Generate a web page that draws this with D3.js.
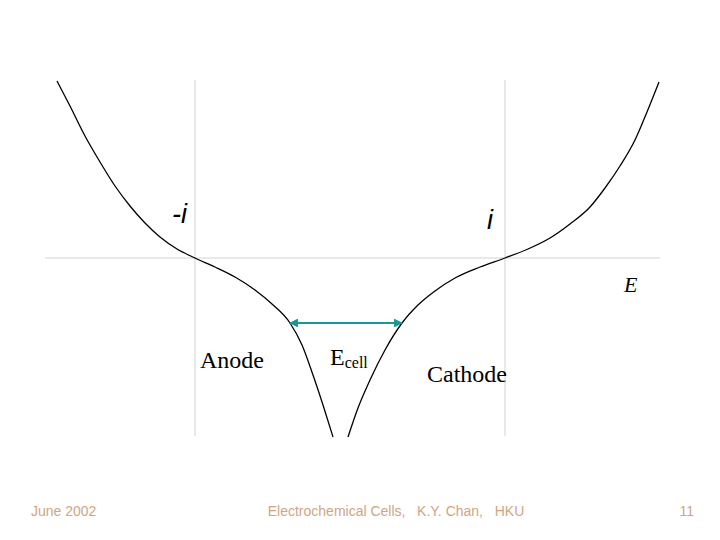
<!DOCTYPE html>
<html><head><meta charset="utf-8">
<script src="https://cdn.jsdelivr.net/npm/d3@7"></script>
<style>body{margin:0;background:#fff}svg{display:block}</style>
</head><body>
<script>
// Anode polarization curve (E, i)
const anodeE = [-2.93, -2.80, -2.65, -2.50, -2.35, -2.20, -2.05, -1.90, -1.73, -1.55, -1.35, -1.15, -0.95, -0.78, -0.60, -0.48, -0.37, -0.27, -0.17];
const anodeI = [1.77, 1.52, 1.22, 0.96, 0.72, 0.52, 0.35, 0.21, 0.09, 0.0, -0.09, -0.19, -0.32, -0.46, -0.65, -0.87, -1.17, -1.47, -1.79];
// Cathode polarization curve (E, i)
const cathodeE = [-0.02, 0.08, 0.20, 0.35, 0.52, 0.68, 0.85, 1.05, 1.30, 1.55, 1.78, 2.00, 2.20, 2.40, 2.55, 2.70, 2.85, 2.97, 3.09];
const cathodeI = [-1.79, -1.50, -1.22, -0.92, -0.65, -0.47, -0.33, -0.20, -0.09, 0.0, 0.09, 0.20, 0.34, 0.51, 0.70, 0.92, 1.18, 1.46, 1.76];
// Equilibrium potentials (vertical guides) and E_cell span
const eqPotentials = [-1.55, 1.55];
const ecellSpan = [-0.60, 0.52];
const ecellLevel = -0.65;
const footer = ["June 2002", "Electrochemical Cells,   K.Y. Chan,   HKU", "11"];

const W = 720, H = 540;
const svg = d3.select("body").append("svg").attr("width", W).attr("height", H);
const x = d3.scaleLinear().domain([-3, 3]).range([50, 650]);
const y = d3.scaleLinear().domain([-1.8, 1.8]).range([438, 78]);

// axis line
svg.append("line").attr("x1", x(-3.05)).attr("x2", x(3.1))
  .attr("y1", y(0)).attr("y2", y(0)).attr("stroke", "#e2e2e2").attr("stroke-width", 1.3);
// vertical guides
svg.selectAll("line.v").data(eqPotentials).enter().append("line")
  .attr("x1", d => x(d)).attr("x2", d => x(d))
  .attr("y1", y(1.78)).attr("y2", y(-1.78))
  .attr("stroke", "#dcdcdc").attr("stroke-width", 1.3);

const line = d3.line().x(d => x(d[0])).y(d => y(d[1])).curve(d3.curveMonotoneX);
svg.append("path").datum(anodeE.map((e, k) => [e, anodeI[k]]))
  .attr("d", line).attr("fill", "none").attr("stroke", "#000").attr("stroke-width", 1.3);
svg.append("path").datum(cathodeE.map((e, k) => [e, cathodeI[k]]))
  .attr("d", line).attr("fill", "none").attr("stroke", "#000").attr("stroke-width", 1.3);

// E_cell arrow
const defs = svg.append("defs");
defs.append("marker").attr("id", "ah").attr("viewBox", "0 0 10 10").attr("refX", 9).attr("refY", 5)
  .attr("markerWidth", 4).attr("markerHeight", 4).attr("orient", "auto-start-reverse")
  .append("path").attr("d", "M0,0 L10,5 L0,10 z").attr("fill", "#199696");
svg.append("line").attr("x1", x(ecellSpan[0])).attr("x2", x(ecellSpan[1]))
  .attr("y1", y(ecellLevel)).attr("y2", y(ecellLevel))
  .attr("stroke", "#199696").attr("stroke-width", 2.2)
  .attr("marker-start", "url(#ah)").attr("marker-end", "url(#ah)");

// labels
const sans = "Liberation Sans, Arial, sans-serif";
const serif = "Liberation Serif, Times New Roman, serif";
svg.append("text").attr("x", 172).attr("y", 223).attr("font-family", sans)
  .attr("font-style", "italic").attr("font-size", 27).text("-i");
svg.append("text").attr("x", 487).attr("y", 229).attr("font-family", sans)
  .attr("font-style", "italic").attr("font-size", 27).text("i");
svg.append("text").attr("x", 624).attr("y", 292).attr("font-family", serif)
  .attr("font-style", "italic").attr("font-size", 22).text("E");
svg.append("text").attr("x", 200).attr("y", 368).attr("font-family", serif)
  .attr("font-size", 24).text("Anode");
const ec = svg.append("text").attr("x", 330).attr("y", 365).attr("font-family", serif)
  .attr("font-size", 24);
ec.append("tspan").text("E");
ec.append("tspan").attr("font-size", 16).attr("dy", 3).text("cell");
svg.append("text").attr("x", 427).attr("y", 382).attr("font-family", serif)
  .attr("font-size", 24).text("Cathode");

// footer
svg.append("text").attr("x", 31).attr("y", 516).attr("font-family", sans).attr("font-size", 14)
  .attr("fill", "#d2a582").text(footer[0]);
svg.append("text").attr("x", 396).attr("y", 516).attr("text-anchor", "middle").attr("font-family", sans)
  .attr("font-size", 14).attr("fill", "#d2a582").style("white-space", "pre").text(footer[1]);
svg.append("text").attr("x", 694).attr("y", 516).attr("text-anchor", "end").attr("font-family", sans)
  .attr("font-size", 14).attr("fill", "#d2a582").text(footer[2]);
</script>
</body></html>
